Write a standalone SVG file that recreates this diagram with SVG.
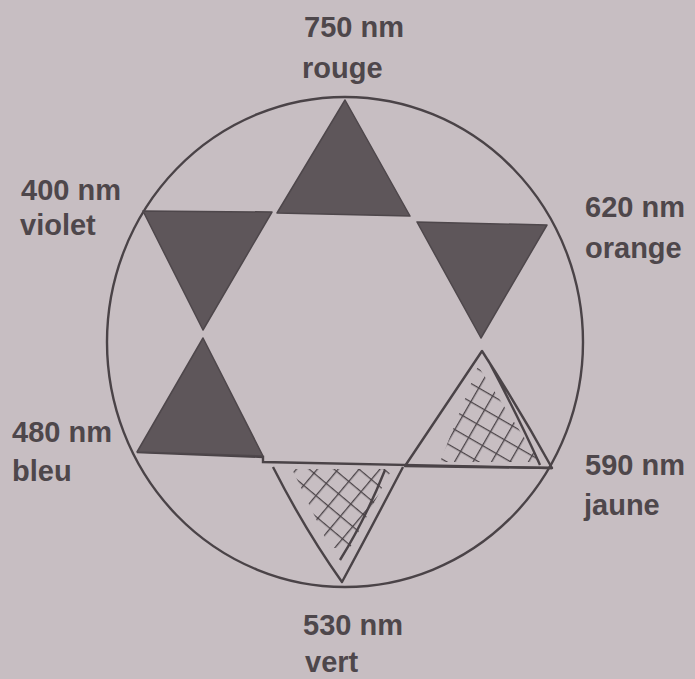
<svg xmlns="http://www.w3.org/2000/svg" width="695" height="679" viewBox="0 0 695 679">
<style>
.lbl{font-family:"Liberation Sans","DejaVu Sans",sans-serif;font-weight:bold;font-size:29px;fill:#4e474b}
.dark{fill:#5e565a;stroke:#4e474b;stroke-width:1.5;stroke-linejoin:round}
.line{fill:none;stroke:#4a4347;stroke-width:2.4}
</style>
<defs>
<pattern id="xh" width="16" height="16" patternUnits="userSpaceOnUse" patternTransform="rotate(40)">
<path d="M0 0H16M0 0V16" stroke="#4a4347" stroke-width="2.6" fill="none"/>
</pattern>
<pattern id="xh2" width="16" height="16" patternUnits="userSpaceOnUse" patternTransform="rotate(30)">
<path d="M0 0H16M0 0V16" stroke="#4a4347" stroke-width="2.6" fill="none"/>
</pattern>
<clipPath id="cv"><polygon points="292,469 392,469 350,548 330,548"/></clipPath>
<clipPath id="cj"><polygon points="478,366 540,462 440,462"/></clipPath>
</defs>
<rect width="695" height="679" fill="#c7bec2"/>
<g id="connectors">
<ellipse class="line" cx="345" cy="342" rx="238" ry="245"/>
<polyline class="line" points="137,452 263,457 263,462 552,468"/>
</g>
<g id="rouge">
<polygon class="dark" points="345,100 410,216 277,213"/>
<text class="lbl" x="304" y="37">750 nm</text>
<text class="lbl" x="302" y="78">rouge</text>
</g>
<g id="violet">
<polygon class="dark" points="143,211 272,212 203,330"/>
<text class="lbl" x="21" y="200">400 nm</text>
<text class="lbl" x="20" y="235">violet</text>
</g>
<g id="orange">
<polygon class="dark" points="417,222 547,225 481,338"/>
<text class="lbl" x="585" y="217">620 nm</text>
<text class="lbl" x="585" y="258">orange</text>
</g>
<g id="bleu">
<polygon class="dark" points="203,338 263,456 137,452"/>
<text class="lbl" x="12" y="442">480 nm</text>
<text class="lbl" x="12" y="481">bleu</text>
</g>
<g id="jaune">
<path fill="none" stroke="#4a4347" stroke-width="2.4" stroke-linejoin="round" d="M482,351 L405,466 L552,468 Q520,410 482,351 Z M488,360 Q520,420 540,465"/>
<rect x="420" y="350" width="140" height="120" fill="url(#xh2)" clip-path="url(#cj)"/>
<text class="lbl" x="585" y="475">590 nm</text>
<text class="lbl" x="584" y="515">jaune</text>
</g>
<g id="vert">
<path fill="none" stroke="#4a4347" stroke-width="2.4" stroke-linejoin="round" d="M273,467 Q305,530 342,582 Q370,530 403,467 M385,470 Q365,520 340,560"/>
<rect x="280" y="465" width="130" height="90" fill="url(#xh)" clip-path="url(#cv)"/>
<text class="lbl" x="303" y="635">530 nm</text>
<text class="lbl" x="305" y="672">vert</text>
</g>
</svg>
